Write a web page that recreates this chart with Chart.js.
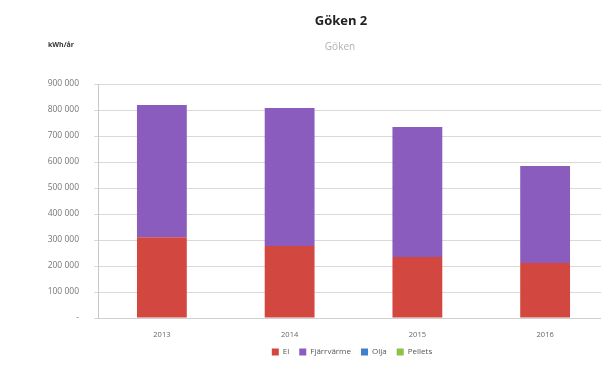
<!DOCTYPE html>
<html>
<head>
<meta charset="utf-8">
<script src="https://cdn.jsdelivr.net/npm/chart.js@4.4.0/dist/chart.umd.min.js"></script>
<style>
  html, body { margin: 0; padding: 0; background: #fff; overflow: hidden; width: 601px; height: 367px; }
  #wrap { position: relative; width: 601px; height: 367px; overflow: hidden; }
  canvas { position: absolute; left: 0; top: 0; }
  .txt { position: absolute; white-space: nowrap; font-family: "Open Sans", "Liberation Sans", sans-serif; }
  #title { left: 341px; top: 11px; transform: translateX(-50%); font-size: 13px; font-weight: bold; color: #222; }
  #subtitle { left: 340px; top: 39px; transform: translateX(-50%); font-size: 10px; color: #b0b0b0; }
  #unit { left: 48px; top: 40px; font-size: 7px; font-weight: bold; color: #333; }
</style>
</head>
<body>
<div id="wrap">
  <canvas id="c" width="704" height="367"></canvas>
  <div class="txt" id="title">Göken 2</div>
  <div class="txt" id="subtitle">Göken</div>
  <div class="txt" id="unit">kWh/år</div>
</div>
<script>
const categories = ["2013", "2014", "2015", "2016"];
const elValues = [311000, 277000, 235000, 212000];
const fjarrvarmeValues = [508000, 531000, 500000, 373000];
const oljaValues = [0, 0, 0, 0];
const pelletsValues = [0, 0, 0, 0];
const yTickValues = [0, 100000, 200000, 300000, 400000, 500000, 600000, 700000, 800000, 900000];

function fmt(v) {
  if (v === 0) return "-";
  return String(v).replace(/\B(?=(\d{3})+(?!\d))/g, " ");
}

const FONT = '"Open Sans", "Liberation Sans", sans-serif';
const ctx = document.getElementById('c').getContext('2d');
new Chart(ctx, {
  type: 'bar',
  data: {
    labels: categories,
    datasets: [
      { label: 'El', data: elValues, backgroundColor: '#d2473f' },
      { label: 'Fjärrvärme', data: fjarrvarmeValues, backgroundColor: '#8a5cbd' },
      { label: 'Olja', data: oljaValues, backgroundColor: '#3f7fcc' },
      { label: 'Pellets', data: pelletsValues, backgroundColor: '#8cc04a' }
    ]
  },
  options: {
    responsive: false,
    animation: false,
    devicePixelRatio: 1,
    layout: { padding: { top: 84, bottom: 1, left: 0, right: 0 } },
    datasets: { bar: { categoryPercentage: 1, barPercentage: 0.39, borderWidth: 0 } },
    plugins: {
      title: { display: false },
      tooltip: { enabled: false },
      legend: {
        display: true,
        position: 'bottom',
        labels: {
          boxWidth: 7,
          boxHeight: 7,
          padding: 10,
          color: '#555',
          font: { family: FONT, size: 8 }
        }
      }
    },
    scales: {
      x: {
        stacked: true,
        grid: { display: false },
        border: { display: true, color: '#d0d0d0' },
        ticks: { color: '#666', font: { family: FONT, size: 7.5 }, padding: 4 },
        afterFit: (s) => { s.height = 20; }
      },
      y: {
        stacked: true,
        min: 0,
        max: 900000,
        afterBuildTicks: (s) => { s.ticks = yTickValues.map(v => ({ value: v })); },
        grid: { color: '#d9d9d9', tickLength: 4, lineWidth: 1 },
        border: { display: true, color: '#c8c8c8' },
        ticks: {
          color: '#777',
          padding: 15,
          font: { family: FONT, size: 8.5 },
          callback: (v) => fmt(v)
        },
        afterFit: (s) => { s.width = 98; }
      },
      y2: {
        position: 'right',
        display: true,
        grid: { display: false },
        border: { display: false },
        ticks: { display: false },
        afterFit: (s) => { s.width = 95; }
      }
    }
  }
});
</script>
</body>
</html>
